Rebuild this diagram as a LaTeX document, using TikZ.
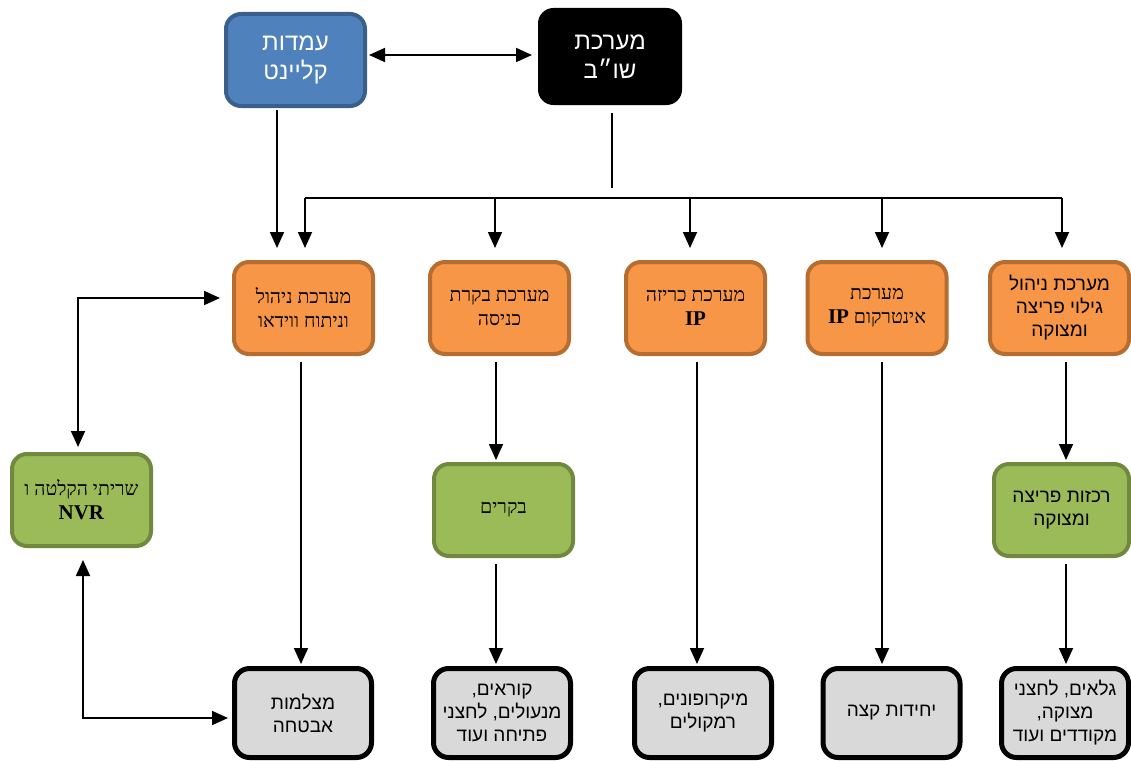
\documentclass[tikz,border=0pt]{standalone}
\usepackage{fontspec}
\setmainfont{Liberation Serif}
\newfontfamily\hebsans[Script=Hebrew]{Liberation Sans}
\newfontfamily\hebserif[Script=Hebrew]{Liberation Serif}
\TeXXeTstate=1
\usetikzlibrary{arrows.meta}
\newcommand\RL[1]{\beginR #1\endR}
\newcommand\BigLat[1]{{\fontsize{21}{23}\selectfont\textbf{#1}}}
\definecolor{bluefill}{HTML}{4F81BD}
\definecolor{blueedge}{HTML}{3A5F8B}
\definecolor{orfill}{HTML}{F79646}
\definecolor{oredge}{HTML}{B66D31}
\definecolor{grfill}{HTML}{9BBB59}
\definecolor{gredge}{HTML}{71893F}
\definecolor{gyfill}{HTML}{D9D9D9}
\tikzset{
  boxbase/.style={rounded corners=15pt, minimum width=139pt, minimum height=92pt, align=center, inner sep=2pt},
  clientbox/.style={boxbase, fill=bluefill, draw=blueedge, line width=4pt, text=white, font=\hebsans\fontsize{24}{29}\selectfont},
  shobbox/.style={boxbase, fill=black, draw=black, line width=1pt, minimum width=143pt, minimum height=96pt, text=white, font=\hebsans\fontsize{24}{29}\selectfont},
  orbox/.style={boxbase, fill=orfill, draw=oredge, line width=4pt, font=\hebserif\fontsize{19.5}{24}\selectfont},
  orboxs/.style={orbox, font=\hebsans\fontsize{19}{23}\selectfont},
  grbox/.style={boxbase, fill=grfill, draw=gredge, line width=4pt, font=\hebserif\fontsize{19.5}{24}\selectfont},
  grboxs/.style={grbox, font=\hebsans\fontsize{19}{23}\selectfont},
  gybox/.style={boxbase, fill=gyfill, draw=black, line width=5pt, minimum width=137pt, minimum height=89pt, font=\hebsans\fontsize{19}{23}\selectfont},
  conn/.style={line width=1.7pt, draw=black},
  arr/.style={conn, -{Triangle[length=16pt,width=14pt]}},
  darr/.style={conn, {Triangle[length=16pt,width=14pt]}-{Triangle[length=16pt,width=14pt]}},
}
\begin{document}
\begin{tikzpicture}[x=1pt,y=-1pt]
\useasboundingbox (0,0) rectangle (1131,760);
% top
\node[clientbox] (client) at (295.5,60) {\RL{עמדות}\\\RL{קליינט}};
\node[shobbox] (shob) at (610,56.5) {\RL{מערכת}\\\RL{שו״ב}};
% orange row
\node[orbox] (mgmt) at (303.5,308) {\RL{מערכת ניהול}\\\RL{וניתוח ווידאו}};
\node[orbox] (access) at (499.5,308) {\RL{מערכת בקרת}\\\RL{כניסה}};
\node[orbox] (ipcall) at (695.5,308) {\RL{מערכת כריזה}\\\BigLat{IP}};
\node[orbox] (intercom) at (877,308) {\RL{מערכת}\\\RL{אינטרקום \beginL\BigLat{IP}\endL}};
\node[orboxs] (alarm) at (1059.5,308) {\RL{מערכת ניהול}\\\RL{גילוי פריצה}\\\RL{ומצוקה}};
% green row
\node[grbox] (nvr) at (81.5,500) {\RL{שריתי הקלטה ו}\\\BigLat{NVR}};
\node[grbox] (ctrl) at (503.5,510) {\RL{בקרים}};
\node[grboxs, minimum width=135pt] (hub) at (1061.5,510) {\RL{רכזות פריצה}\\\RL{ומצוקה}};
% gray row
\node[gybox] (cam) at (303,713) {\RL{מצלמות}\\\RL{אבטחה}};
\node[gybox] (readers) at (502,713) {\RL{קוראים,}\\\RL{מנעולים, לחצני}\\\RL{פתיחה ועוד}};
\node[gybox] (mics) at (703,713) {\RL{מיקרופונים,}\\\RL{רמקולים}};
\node[gybox] (edge) at (891.5,713) {\RL{יחידות קצה}};
\node[gybox, minimum width=127pt] (sensors) at (1065,713) {\RL{גלאים, לחצני}\\\RL{מצוקה,}\\\RL{מקודדים ועוד}};
% coordinates
\coordinate (ty) at (0,55);
\coordinate (cx) at (277,0);
\coordinate (sx) at (612,0);
\coordinate (busend) at (612,188);
\coordinate (busL) at (305,198);
\coordinate (busR) at (1062,198);
\coordinate (x2) at (495,0);
\coordinate (x3) at (690,0);
\coordinate (x4) at (882,0);
\coordinate (c1) at (301,0);
\coordinate (c2) at (496,0);
\coordinate (c3) at (697,0);
\coordinate (c4) at (882,0);
\coordinate (c5) at (1066,0);
\coordinate (lx) at (78,298);
\coordinate (lx2) at (83,718);
% top connectors
\draw[darr, shorten >=6pt, shorten <=2pt] (client.east |- ty) -- (shob.west |- ty);
\draw[conn] ([yshift=-8pt]shob.south -| sx) -- (busend);
\draw[conn] (busL) -- (busR);
\draw[arr, shorten <=2pt, shorten >=12pt] (client.south -| cx) -- (mgmt.north -| cx);
\draw[arr, shorten >=12pt] (busL) -- (mgmt.north -| busL);
\draw[arr, shorten >=12pt] (busL -| x2) -- (access.north -| x2);
\draw[arr, shorten >=12pt] (busL -| x3) -- (ipcall.north -| x3);
\draw[arr, shorten >=12pt] (busL -| x4) -- (intercom.north -| x4);
\draw[arr, shorten >=12pt] (busR) -- (alarm.north -| busR);
% vertical chains
\draw[arr, shorten <=6pt, shorten >=2pt] (mgmt.south -| c1) -- (cam.north -| c1);
\draw[arr, shorten <=6pt, shorten >=2pt] (access.south -| c2) -- (ctrl.north -| c2);
\draw[arr, shorten <=6pt, shorten >=2pt] (ctrl.south -| c2) -- (readers.north -| c2);
\draw[arr, shorten <=6pt, shorten >=2pt] (ipcall.south -| c3) -- (mics.north -| c3);
\draw[arr, shorten <=6pt, shorten >=2pt] (intercom.south -| c4) -- (edge.north -| c4);
\draw[arr, shorten <=6pt, shorten >=2pt] (alarm.south -| c5) -- (hub.north -| c5);
\draw[arr, shorten <=6pt, shorten >=2pt] (hub.south -| c5) -- (sensors.north -| c5);
% left loop
\draw[darr, shorten <=5pt, shorten >=12pt] (nvr.north -| lx) |- (mgmt.west |- lx);
\draw[darr, shorten <=12pt, shorten >=4pt] (nvr.south -| lx2) |- (cam.west |- lx2);
\end{tikzpicture}
\end{document}
